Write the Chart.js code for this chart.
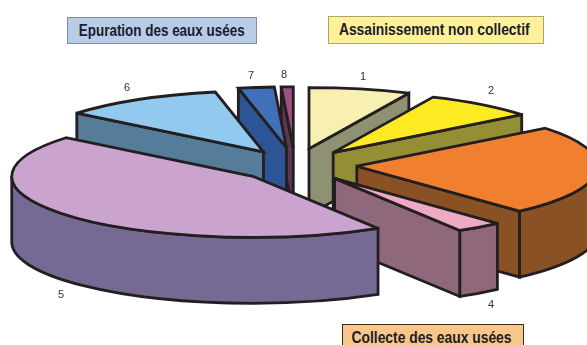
<!DOCTYPE html>
<html lang="fr">
<head>
<meta charset="utf-8">
<title>Assainissement</title>
<script src="https://cdn.jsdelivr.net/npm/chart.js@4"></script>
<style>
    html, body { margin: 0; padding: 0; background: #fff; overflow: hidden; }
    #wrap { position: relative; width: 587px; height: 345px; overflow: hidden; }
    canvas { position: absolute; left: 0; top: 0; }
    .box {
        position: absolute; box-sizing: border-box; text-align: center; white-space: nowrap;
        font: bold 16px 'Liberation Sans', sans-serif; color: #1a1c2a;
    }
    /* no narrow face installed, so squeeze the bold one */
    .box span { display: inline-block; transform: scaleX(0.84); margin: 0 -30px; }
    #boxEpuration { left: 67px; top: 17px; width: 190px; height: 27px; line-height: 25px; background: #b8cce8; border: 1.5px solid #858b99; }
    #boxAnc { left: 328px; top: 16px; width: 216px; height: 28px; line-height: 26px; background: #fef19a; border: 1.5px solid #aaa66a; }
    #boxAnc span { transform: translateX(-2px) scaleX(0.865); }
    #boxCollecte { left: 342px; top: 324px; width: 182px; height: 30px; line-height: 26px; background: #f9c68a; border: 1.5px solid #3a2a20; }
    #boxCollecte span { transform: translateX(-2px) scaleX(0.865); }
</style>
</head>
<body>
<div id="wrap">
    <canvas id="pieChart" width="587" height="345"></canvas>
    <div class="box" id="boxEpuration"><span>Epuration des eaux usées</span></div>
    <div class="box" id="boxAnc"><span>Assainissement non collectif</span></div>
    <div class="box" id="boxCollecte"><span>Collecte des eaux usées</span></div>
</div>
<script>
const categories = ['1', '2', '3', '4', '5', '6', '7', '8'];
const shares = [6.8, 7.5, 23.9, 3.1, 44.6, 10.9, 2.4, 0.8];
const explode = [66, 62, 62, 66, 56, 61, 68, 68];
const nudgeY = [0, 0, 0, 0, 2, 0, 0, 0];
const topColors = ['#f7f0b0', '#fdea22', '#f08030', '#eea9c3', '#cba3cf', '#92c9ee', '#4270b8', '#a0507f'];
const wallColors = ['#8e9272', '#948f35', '#8a5224', '#8f687c', '#766a94', '#557c98', '#2d5596', '#5e3650'];
// back slices first
const drawOrder = [7, 6, 0, 5, 1, 2, 3, 4];
// label 3 falls off the picture, so it has no spot
const labelSpots = [[363, 77], [491, 91], null, [491, 305], [61, 295], [127, 88], [251, 76], [284, 75]];

// flattened pie: ellipse radii and wall height
const RX = 241;
const RY = 61;
const DEPTH = 66;

function drawSlice(ctx, arc, i) {
    const a0 = arc.startAngle;
    const a1 = arc.endAngle;
    const mid = (a0 + a1) / 2;
    const off = explode[i];
    const x = arc.x + off * Math.cos(mid);
    const y = arc.y + off * Math.sin(mid) * RY / RX + nudgeY[i];

    const edge = (a) => [x + RX * Math.cos(a), y + RY * Math.sin(a)];
    const fillStroke = (color) => {
        ctx.fillStyle = color;
        ctx.fill();
        ctx.stroke();
    };
    const radialWall = (a) => {
        const p = edge(a);
        ctx.beginPath();
        ctx.moveTo(x, y);
        ctx.lineTo(p[0], p[1]);
        ctx.lineTo(p[0], p[1] + DEPTH);
        ctx.lineTo(x, y + DEPTH);
        ctx.closePath();
        fillStroke(wallColors[i]);
    };

    // only the walls that face the viewer
    if (Math.cos(a0) < -0.001) radialWall(a0);
    if (Math.cos(a1) > 0.001) radialWall(a1);

    const from = Math.max(a0, 0);
    const to = Math.min(a1, Math.PI);
    if (to > from) {
        ctx.beginPath();
        ctx.ellipse(x, y, RX, RY, 0, from, to);
        ctx.ellipse(x, y + DEPTH, RX, RY, 0, to, from, true);
        ctx.closePath();
        fillStroke(wallColors[i]);
    }

    ctx.beginPath();
    ctx.moveTo(x, y);
    ctx.ellipse(x, y, RX, RY, 0, a0, a1);
    ctx.closePath();
    fillStroke(topColors[i]);
}

const pie3d = {
    id: 'pie3d',
    beforeDatasetDraw(chart, args) {
        const ctx = chart.ctx;
        const arcs = args.meta.data;
        ctx.save();
        ctx.lineWidth = 2.8;
        ctx.strokeStyle = '#231f20';
        ctx.lineJoin = 'miter';
        ctx.miterLimit = 3;
        drawOrder.forEach(i => drawSlice(ctx, arcs[i], i));

        ctx.fillStyle = '#333333';
        ctx.font = '11px "Liberation Sans", Arial, sans-serif';
        ctx.textAlign = 'center';
        ctx.textBaseline = 'middle';
        categories.forEach((label, i) => {
            if (labelSpots[i]) ctx.fillText(label, labelSpots[i][0], labelSpots[i][1]);
        });
        ctx.restore();
        return false;
    }
};

new Chart(document.getElementById('pieChart').getContext('2d'), {
    type: 'pie',
    data: {
        labels: categories,
        datasets: [{ data: shares, backgroundColor: topColors }]
    },
    options: {
        responsive: false,
        animation: false,
        layout: { padding: { left: 3, bottom: 15 } },
        plugins: { legend: { display: false }, tooltip: { enabled: false } }
    },
    plugins: [pie3d]
});
</script>
</body>
</html>
